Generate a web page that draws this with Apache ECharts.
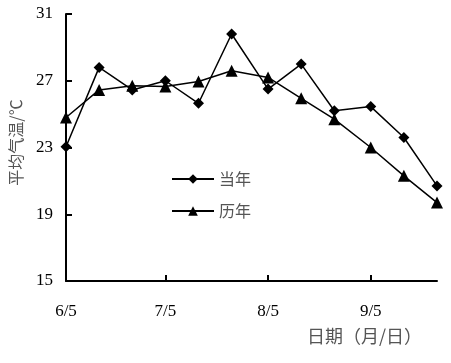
<!DOCTYPE html>
<html><head><meta charset="utf-8">
<script src="https://cdn.jsdelivr.net/npm/echarts@6/dist/echarts.min.js"></script>
<style>html,body{margin:0;padding:0;background:#fff}#c{width:451px;height:363px}</style>
</head><body><div id="c"></div>
<script>
const dates = ['6/5','6/15','6/25','7/5','7/15','7/25','8/5','8/15','8/25','9/5','9/15','9/25'];
const thisYear = [23.05, 27.8, 26.45, 27.0, 25.65, 29.8, 26.5, 28.0, 25.2, 25.45, 23.6, 20.7];
const pastYears = [24.8, 26.45, 26.7, 26.65, 26.95, 27.6, 27.2, 25.95, 24.7, 23.0, 21.3, 19.7];
const xTickLabels = ['6/5','7/5','8/5','9/5'];
const yTicks = [15, 19, 23, 27, 31];
const seriesNames = ['当年','历年'];
const xName = '日期（月/日）';
const yName = '平均气温/℃';

function dayOf(s){const [m,d]=s.split('/').map(Number);return Math.round((Date.UTC(2000,m-1,d)-Date.UTC(2000,5,5))/86400000);}
const xs = dates.map(dayOf);
const tickDays = xTickLabels.map(dayOf);
const labelOf = {}; xTickLabels.forEach(l=>labelOf[dayOf(l)]=l);

const serif = 'Liberation Serif, Times New Roman, serif';
const cjk = 'Noto Sans CJK SC';
const chart = echarts.init(document.getElementById('c'));
chart.setOption({
  animation:false,
  grid:{left:63,top:14,right:14,bottom:82,containLabel:false},
  title:{text:xName,left:302,top:322,textStyle:{fontFamily:cjk,fontSize:18,fontWeight:'normal',color:'#555'}},
  legend:{orient:'vertical',left:166,top:166,itemWidth:42,itemHeight:12,itemGap:16,
    textStyle:{fontFamily:cjk,fontSize:16,color:'#555'},data:seriesNames},
  xAxis:{type:'value',min:xs[0],max:xs[xs.length-1],
    axisLine:{lineStyle:{color:'#000',width:2}},
    axisTick:{inside:true,length:6,lineStyle:{color:'#000',width:2},customValues:tickDays},
    axisLabel:{customValues:tickDays,formatter:v=>labelOf[v]||'',fontFamily:serif,fontSize:17,color:'#000',margin:22},
    splitLine:{show:false}},
  yAxis:{type:'value',min:yTicks[0],max:yTicks[yTicks.length-1],interval:4,
    name:yName,nameLocation:'middle',nameGap:42,nameRotate:90,
    nameTextStyle:{fontFamily:cjk,fontSize:16,color:'#555',padding:[0,0,0,10]},
    axisLine:{show:true,lineStyle:{color:'#000',width:2}},
    axisTick:{show:true,inside:true,length:6,lineStyle:{color:'#000',width:2}},
    axisLabel:{fontFamily:serif,fontSize:17,color:'#000',margin:13},
    splitLine:{show:false}},
  series:[
    {name:seriesNames[0],type:'line',data:xs.map((x,i)=>[x,thisYear[i]]),symbol:'diamond',symbolSize:11,
     lineStyle:{color:'#000',width:1.5},itemStyle:{color:'#000'}},
    {name:seriesNames[1],type:'line',data:xs.map((x,i)=>[x,pastYears[i]]),symbol:'triangle',symbolSize:12,
     lineStyle:{color:'#000',width:1.5},itemStyle:{color:'#000'}}
  ]
});
</script></body></html>
